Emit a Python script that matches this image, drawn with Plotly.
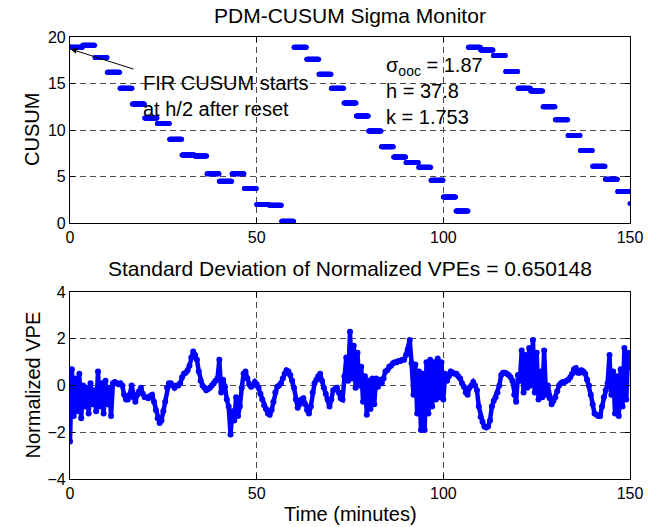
import numpy as np
import plotly.graph_objects as go
from plotly.subplots import make_subplots

# ---------------- data ----------------
# CUSUM step values, one per 200-second interval (10/3 min)
cusum_step_min = 10.0 / 3.0
cusum_values = [18.9, 19.1, 17.8, 16.2, 14.5, 12.8, 11.3, 10.7, 9.0, 7.3, 7.2, 5.3, 4.5, 5.3,
                3.7, 2.0, 1.9, 0.2,
                18.9, 17.6, 16.0, 14.5, 12.9, 11.5, 9.9, 8.2, 7.1, 6.5, 6.0, 4.6, 2.8, 1.3,
                18.9, 18.6, 18.0, 16.3, 14.5, 14.2, 12.5, 11.1, 9.4, 7.8, 6.1, 4.7, 3.4, 2.1]

# Normalized VPE, sampled every 0.5 minute (0 .. 150)
vpe_dt = 0.5
vpe_values = [
    -2.4, 0.7, -1.3, 0.3, -1.1, 0.5, -1.4, 0.0, -0.9, -0.1, -1.2, 0.1, -0.8, -0.2, -1.1, 0.6, -0.9, 0.1, -1.2, 0.2,
    -0.8, -0.1, -1.3, 0.1, 0.15, 0.1, 0.05, 0.1, 0.0, -0.4, -0.6, -0.6, -0.4, 0.0, -0.5, -0.7, -0.4, -0.25, -0.1, -0.35,
    -0.5, -0.5, -0.55, -0.45, -0.4, -0.7, -1.05, -1.4, -1.6, -1.5, -1.1, -0.7, -0.1, 0.1, 0.1, 0.0, -0.1, 0.0, 0.0, 0.1,
    0.35, 0.5, 0.55, 0.65, 0.85, 1.2, 1.45, 1.3, 1.1, 0.6, 0.2, 0.0, -0.1, -0.2, -0.15, -0.1, 0.0, 0.1, 0.2, 0.3,
    1.1, -0.3, 0.25, -0.05, -0.6, -0.9, -2.1, -1.1, -1.5, -0.5, -1.3, -0.9, -0.1, 0.5, 0.6, 0.3, 0.05, -0.05, 0.0, 0.15,
    0.05, -0.1, -0.35, -0.6, -0.85, -1.0, -1.2, -1.25, -1.05, -0.7, -0.3, -0.05, 0.0, 0.1, 0.3, 0.5, 0.65, 0.6, 0.45, 0.2,
    -0.1, -0.6, -0.95, -0.8, -0.6, -0.55, -0.8, -1.05, -1.2, -0.9, -0.3, 0.1, 0.25, 0.4, 0.5, 0.2, -0.1, -0.35, -0.6, -0.9,
    -0.6, -0.2, -0.15, -0.1, -0.3, -0.55, -0.6, 0.4, 1.2, 0.2, 2.3, 0.3, 1.7, -0.1, 1.4, 0.0, 0.8, -0.7, 0.4, -1.25,
    0.2, -1.0, 0.3, -0.8, 0.3, -0.05, 0.25, 0.1, 0.3, 0.6, 0.65, 0.8, 0.85, 0.95, 1.0, 1.0, 1.05, 1.05, 1.1, 1.1,
    1.3, 1.55, 1.95, 0.95, -0.4, 0.9, -1.2, 0.6, -1.9, 0.5, -1.9, 1.0, -1.2, 1.1, -0.9, 1.0, -0.6, 1.15, -0.5, 1.0,
    -0.6, 0.5, 0.2, 0.4, 0.6, 0.55, 0.5, 0.5, 0.4, 0.3, 0.1, -0.05, -0.3, -0.4, -0.1, 0.0, 0.15, 0.0, -0.2, -0.9,
    -1.35, -1.55, -1.75, -1.8, -1.75, -1.5, -0.9, -0.65, -0.5, -0.3, 0.0, 0.45, 0.55, 0.55, 0.5, 0.45, 0.35, 0.2, -0.4, -0.7,
    0.45, 0.2, 1.5, -0.3, 1.3, -0.1, 1.6, 0.0, 1.95, -0.3, 1.4, -0.6, 0.6, -0.5, 1.5, -0.4, 0.0, -0.55, -0.8, -0.65,
    -0.5, -0.25, 0.0, 0.1, 0.15, 0.15, 0.2, 0.25, 0.35, 0.5, 0.7, 0.75, 0.55, 0.55, 0.65, 0.6, 0.5, 0.25, 0.0, -0.4,
    -0.8, -1.2, -1.25, -1.3, -1.3, -0.9, -0.5, -0.2, 0.1, 1.3, -0.4, 0.6, -1.2, 0.4, -1.3, 0.7, -0.9, 1.6, -0.6, 1.4,
    0.8,
]

x_ticks = [0, 50, 100, 150]
cusum_ticks = [0, 5, 10, 15, 20]
vpe_ticks = [-4, -2, 0, 2, 4]

title_top = "PDM-CUSUM Sigma Monitor"
title_bottom = "Standard Deviation of Normalized VPEs = 0.650148"
sigma_text = "σ<sub>ooc</sub> = 1.87<br>h = 37.8<br>k = 1.753"
fir_text = "FIR CUSUM starts<br>at h/2 after reset"

# ---------------- build ----------------
t_cusum = np.arange(0, 1501) / 10.0
idx = np.minimum((t_cusum / cusum_step_min + 1e-9).astype(int), len(cusum_values) - 1)
y_cusum = np.array(cusum_values)[idx]

t_vpe = np.arange(len(vpe_values)) * vpe_dt

FONT = "Liberation Sans, Arial, Helvetica, sans-serif"
BLUE = "#0000FF"
GRID = "#4a4a4a"

fig = make_subplots(rows=2, cols=1, vertical_spacing=0.0)

fig.add_trace(go.Scatter(x=t_cusum, y=y_cusum, mode="markers",
                         marker=dict(color=BLUE, size=5, line=dict(width=0)),
                         showlegend=False, hoverinfo="skip"), row=1, col=1)
fig.add_trace(go.Scatter(x=t_vpe, y=vpe_values, mode="lines+markers",
                         line=dict(color=BLUE, width=4.5),
                         marker=dict(color=BLUE, size=6, line=dict(width=0)),
                         showlegend=False, hoverinfo="skip"), row=2, col=1)

plot_h = 527 - 37 - 48
top_dom = [1 - 186 / plot_h, 1.0]
bot_dom = [0.0, 187 / plot_h]

axis_common = dict(showline=True, linecolor="black", linewidth=1.2, mirror="ticks",
                   ticks="inside", ticklen=5, tickcolor="black", tickwidth=1,
                   showgrid=True, gridcolor=GRID, gridwidth=1, griddash="6px,4px",
                   zeroline=False, tickfont=dict(family=FONT, size=16, color="black"))

fig.update_xaxes(range=[0, 150], tickvals=x_ticks, **axis_common)
fig.update_yaxes(**axis_common)
fig.update_yaxes(range=[0, 20], tickvals=cusum_ticks, domain=top_dom, row=1, col=1)
fig.update_yaxes(range=[-4, 4], tickvals=vpe_ticks, domain=bot_dom, row=2, col=1)

annos = [
    dict(text=title_top, x=0.5, y=1, xref="paper", yref="paper", yanchor="bottom",
         yshift=8, showarrow=False, font=dict(family=FONT, size=21, color="black")),
    dict(text=title_bottom, x=0.5, y=bot_dom[1], xref="paper", yref="paper", yanchor="bottom",
         yshift=10, showarrow=False, font=dict(family=FONT, size=21, color="black")),
    dict(text="Time (minutes)", x=0.5, y=0, xref="paper", yref="paper", yanchor="top",
         yshift=-22, showarrow=False, font=dict(family=FONT, size=20, color="black")),
    dict(text="CUSUM", x=0, y=sum(top_dom) / 2, xref="paper", yref="paper",
         xanchor="center", yanchor="middle", xshift=-38, textangle=-90, showarrow=False,
         font=dict(family=FONT, size=20, color="black")),
    dict(text="Normalized VPE", x=0, y=sum(bot_dom) / 2, xref="paper", yref="paper",
         xanchor="center", yanchor="middle", xshift=-38, textangle=-90, showarrow=False,
         font=dict(family=FONT, size=20, color="black")),
    dict(text=sigma_text, x=84.0, y=14.2, xref="x", yref="y", xanchor="left", yanchor="middle",
         align="left", showarrow=False, font=dict(family=FONT, size=20, color="black")),
    dict(text=fir_text, x=19.0, y=13.7, xref="x", yref="y", xanchor="left", yanchor="middle",
         align="left", showarrow=False, font=dict(family=FONT, size=20, color="black")),
    dict(text="", x=0.2, y=18.7, xref="x", yref="y", ax=17.4, ay=16.5, axref="x", ayref="y",
         showarrow=True, arrowhead=2, arrowsize=1.2, arrowwidth=1, arrowcolor="black"),
]

fig.update_layout(width=655, height=527, margin=dict(l=70, r=25, t=37, b=48),
                  paper_bgcolor="white", plot_bgcolor="white", annotations=annos,
                  font=dict(family=FONT, color="black"))

fig.write_html("out.html", config={"displayModeBar": False},
               post_script="document.body.style.margin='0';")
